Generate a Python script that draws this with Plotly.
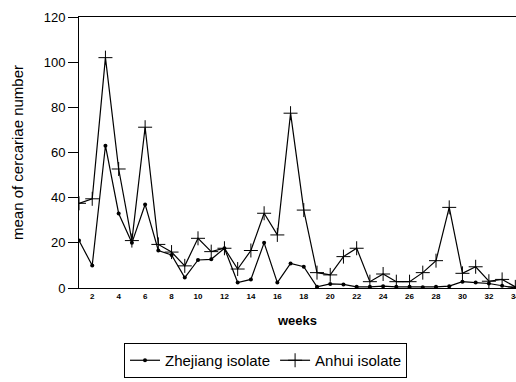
import plotly.graph_objects as go

weeks = list(range(1, 35))
zhejiang = [21, 10, 63, 33, 20, 37, 16.6, 14.6, 4.6, 12.4, 12.7, 17.6, 2.4, 3.8, 20, 2.4, 10.9, 9.4,
            0.5, 1.8, 1.6, 0.5, 0.5, 0.8, 0.5, 0.5, 0.3, 0.5, 0.8, 2.8, 2.4, 2.0, 1.0, 0]
anhui = [37.5, 39.5, 102, 52.7, 21, 71.2, 19.3, 15.9, 9.8, 22, 16.1, 17.6, 8.4, 16.6, 33.1, 23.5, 77.4, 34.5,
         6.8, 5.8, 13.9, 17.6, 2.8, 6.2, 2.8, 2.8, 6.8, 12.1, 35.7, 6.5, 9.4, 3.0, 3.8, 0.5]
xticks = list(range(2, 35, 2))
yticks = [0, 20, 40, 60, 80, 100, 120]

fig = go.Figure()
fig.add_trace(go.Scatter(x=weeks, y=zhejiang, mode="lines+markers", name="Zhejiang isolate",
                         line=dict(color="black", width=1.2),
                         marker=dict(symbol="circle", size=4, color="black")))
fig.add_trace(go.Scatter(x=weeks, y=anhui, mode="lines+markers", name="Anhui isolate",
                         line=dict(color="black", width=1.2),
                         marker=dict(symbol="cross-thin", size=10, color="black",
                                     line=dict(color="black", width=1))))

fig.update_layout(
    width=516, height=382,
    margin=dict(l=79, r=0, t=17, b=94, autoexpand=False),
    paper_bgcolor="white", plot_bgcolor="white",
    font=dict(family="Liberation Sans, Arial", color="black", size=12),
    showlegend=True,
    legend=dict(orientation="h", x=0.103, y=-0.203, xanchor="left", yanchor="top",
                bordercolor="black", borderwidth=1, bgcolor="white",
                font=dict(size=15), itemwidth=30, tracegroupgap=0),
)
fig.update_xaxes(range=[1, 34.05], tickvals=xticks, ticktext=["<b>%d</b>" % v for v in xticks],
                 showgrid=False, zeroline=False, showline=True, linecolor="black", linewidth=1,
                 mirror=True, ticks="", automargin=False, ticklabeloverflow="allow",
                 tickfont=dict(size=8, family="Liberation Sans, Arial"),
                 title=dict(text="<b>weeks</b>", font=dict(size=13), standoff=16))
fig.update_yaxes(range=[0, 120], tickvals=yticks, showgrid=False, zeroline=False,
                 showline=True, linecolor="black", linewidth=1, ticks="outside", ticklen=10,
                 tickcolor="black", tickwidth=1, tickfont=dict(size=13), automargin=False,
                 title=dict(text="mean of cercariae number", font=dict(size=15), standoff=16))

fig.write_html("out.html", config={"displayModeBar": False},
               post_script="document.body.style.margin='0';")
